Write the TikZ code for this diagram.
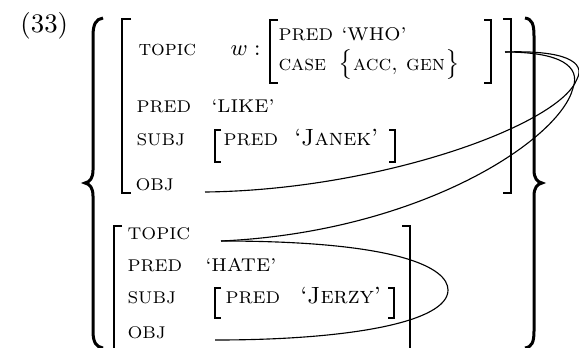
\documentclass[tikz,border=0pt]{standalone}
\newcommand\capfont{\fontsize{6.8}{8}\selectfont}
\newcommand\valfont{\fontsize{7.4}{9}\selectfont}
\newcommand\scfont{\fontsize{8.6}{10}\selectfont}
\newcommand\namefont{\fontsize{9.4}{11}\selectfont}
\tikzset{
  lbl/.style={anchor=base west, inner sep=0pt, font=\capfont},
  vallbl/.style={anchor=base west, inner sep=0pt, font=\valfont},
  sclbl/.style={anchor=base west, inner sep=0pt, font=\scfont},
  nmlbl/.style={anchor=base west, inner sep=0pt, font=\namefont},
  brk/.style={line width=0.7pt},
  bigbrace/.style={line width=1.2pt},
  link/.style={line width=0.45pt},
}
\begin{document}
\begin{tikzpicture}[x=0.4pt,y=-0.4pt]
\useasboundingbox (0,0) rectangle (579,347);
% example number
\node[anchor=base west, inner sep=0pt, font=\fontsize{10.7}{12}\selectfont] (ex) at (20,32) {(33)};
% big braces
\draw[bigbrace] (103,18) .. controls (96,19) and (93,24) .. (93,36) -- (93,170)
  .. controls (93,178) and (90,182) .. (85,183) .. controls (90,184) and (93,188) .. (93,196)
  -- (93,331) .. controls (93,342) and (96,347) .. (103,348);
\draw[bigbrace] (525,18) .. controls (532,19) and (534,24) .. (534,36) -- (534,170)
  .. controls (534,178) and (537,182) .. (542,183) .. controls (537,184) and (534,188) .. (534,196)
  -- (534,331) .. controls (534,342) and (532,347) .. (525,348);
% top matrix brackets
\draw[brk] (131,19) -- (122,19) -- (122,193) -- (131,193);
\draw[brk] (503,19) -- (511,19) -- (511,193) -- (503,193);
% inner matrix w
\draw[brk] (278,20) -- (270,20) -- (270,83) -- (278,83);
\draw[brk] (484,20) -- (491,20) -- (491,83) -- (484,83);
% top matrix text
\node[sclbl] (topic1) at (138,55) {\textsc{topic}};
\node[nmlbl] (w) at (230,55) {$w:$};
\node[lbl] (pred1) at (278,40) {PRED};
\node[vallbl] (who) at (341,40) {`WHO'};
\node[sclbl] (case) at (278,70) {\textsc{case}};
\node[sclbl] (accgen) at (338,70) {$\big\{$\textsc{acc, gen}$\big\}$};
\node[lbl] (pred2) at (136,112) {PRED};
\node[vallbl] (like) at (211,112) {`LIKE'};
\node[lbl] (subj1) at (136,145) {SUBJ};
\draw[brk] (221,130) -- (215,130) -- (215,162) -- (221,162);
\node[lbl] (pred3) at (223,145) {PRED};
\node[nmlbl] (janek) at (294,145) {`\textsc{Janek}'};
\draw[brk] (389,130) -- (395,130) -- (395,162) -- (389,162);
\node[lbl] (obj1) at (135,190) {OBJ};
% lower matrix
\draw[brk] (122,226) -- (114,226) -- (114,360);
\draw[brk] (402,226) -- (410,226) -- (410,360);
\node[lbl] (topic2) at (127,239) {TOPIC};
\node[lbl] (pred4) at (127,271) {PRED};
\node[vallbl] (hate) at (205,271) {`HATE'};
\node[lbl] (subj2) at (127,303) {SUBJ};
\draw[brk] (221,288) -- (215,288) -- (215,318) -- (221,318);
\node[lbl] (pred5) at (225,303) {PRED};
\node[nmlbl] (jerzy) at (300,303) {`\textsc{Jerzy}'};
\draw[brk] (388,288) -- (394,288) -- (394,318) -- (388,318);
\node[lbl] (obj2) at (127,338) {OBJ};
% link anchors
\coordinate (wend) at (505,52);
\coordinate (objA) at (205,192);
\coordinate (topB) at (221,241);
\coordinate (objB) at (215,340);
% links
\draw[link] (wend) .. controls (565,50) and (586,62) .. (577,79)
  .. controls (560,125) and (380,190) .. (objA);
\draw[link] (wend) .. controls (560,52) and (581,66) .. (573,88)
  .. controls (560,140) and (420,232) .. (topB);
\draw[link] (topB) .. controls (400,241) and (448,268) .. (448,290)
  .. controls (448,322) and (350,340) .. (objB);
\end{tikzpicture}
\end{document}
